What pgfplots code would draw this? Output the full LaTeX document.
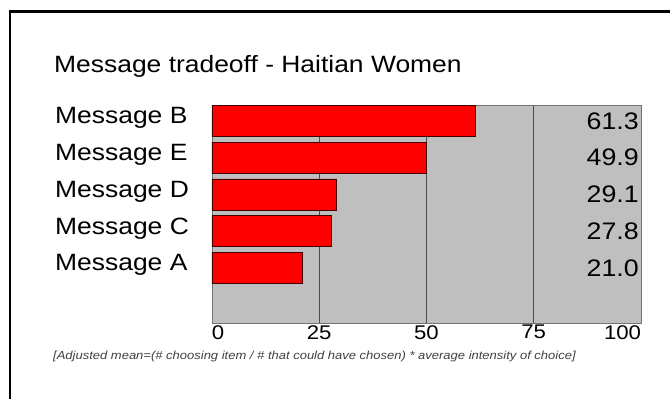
\documentclass[border=0pt]{standalone}
\usepackage{fontspec}
\setmainfont[FakeStretch=1.12]{Liberation Sans}
\usepackage{pgfplots}
\pgfplotsset{compat=1.18}
\begin{document}
\begin{tikzpicture}[x=1pt,y=1pt]
\useasboundingbox (0,0) rectangle (670,399);
\draw[line width=2.5pt, black] (10,-5) -- (10,387.7) -- (675,387.7);
\node[anchor=base west, inner sep=0pt, font=\fontsize{23.6}{28}\selectfont] at (54,326) {Message tradeoff - Haitian Women};
\node[anchor=west, inner sep=0pt, font=\fontsize{11.6}{13}\selectfont\itshape, text=black!75] at (53,42) {[Adjusted mean=(\# choosing item / \# that could have chosen) * average intensity of choice]};
\begin{axis}[
  at={(212pt,76pt)}, anchor=south west,
  scale only axis, width=429pt, height=218pt,
  xmin=0, xmax=100, ymin=-1.5, ymax=4.435,
  axis background/.style={fill=black!25},
  axis line style={draw=black!55, line width=0.8pt},
  xtick={0,25,50,75,100},
  xticklabels={\makebox[0pt][l]{0},25,50,75,\makebox[0pt][r]{100}},
  ytick={0,1,2,3,4},
  yticklabels={Message A, Message C, Message D, Message E, Message B},
  major tick length=0pt,
  xmajorgrids, grid style={black!70, line width=0.7pt},
  xticklabel style={font=\fontsize{19.8}{22}\selectfont, anchor=north, inner sep=0pt, yshift=-2pt},
  yticklabel style={font=\fontsize{23.6}{28}\selectfont, anchor=base west, inner sep=0pt, xshift=-157pt, yshift=-3pt},
  /pgf/number format/assume math mode=true,
  clip=false,
]
\addplot[xbar, bar width=31pt, fill=red, draw=black!75!red, line width=0.8pt]
  coordinates {(21.0,0) (27.8,1) (29.1,2) (49.9,3) (61.3,4)};
\addplot[draw=none, mark=none, nodes near coords, point meta=explicit symbolic,
  every node near coord/.append style={anchor=east, font=\fontsize{23.9}{28}\selectfont, inner sep=0pt, xshift=-2pt, text=black}]
  table[meta=lab] {
x y lab
100 0 21.0
100 1 27.8
100 2 29.1
100 3 49.9
100 4 61.3
};
\end{axis}
\end{tikzpicture}
\end{document}
